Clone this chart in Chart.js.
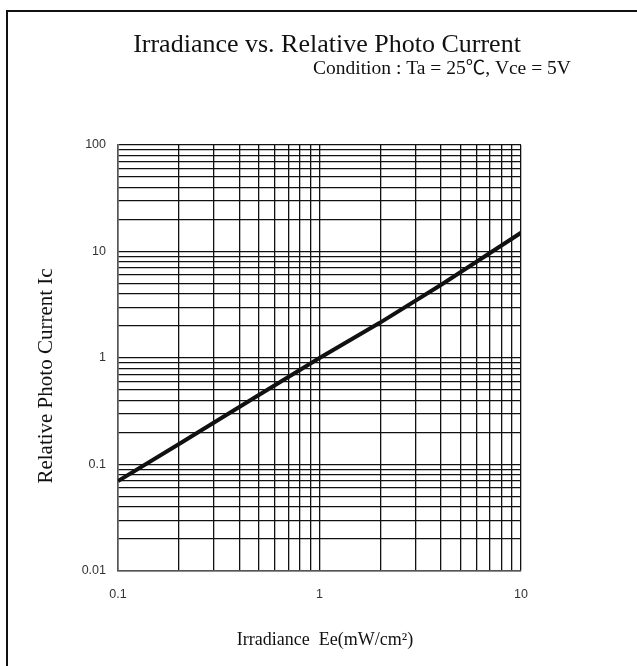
<!DOCTYPE html>
<html>
<head>
<meta charset="utf-8">
<script src="https://cdn.jsdelivr.net/npm/chart.js@4/dist/chart.umd.min.js"></script>
<style>
  html, body { margin: 0; padding: 0; background: #fff; }
  #wrap { position: relative; width: 637px; height: 666px; overflow: hidden; }
  #frame { position: absolute; left: 6px; top: 10px; right: -10px; bottom: -10px;
           border-top: 2px solid #111; border-left: 2px solid #111; }
  canvas { position: absolute; left: 0; top: 0; }
</style>
</head>
<body>
<div id="wrap">
  <div id="frame"></div>
  <canvas id="graph" width="637" height="666"></canvas>
</div>
<script>
// Werte
const irradiance = [0.1, 0.2, 0.5, 1, 2, 4, 10];
const photoCurrent = [0.07, 0.155, 0.45, 1.0, 2.15, 4.85, 15];

const xMajor = [0.1, 1, 10];
const yMajor = [0.01, 0.1, 1, 10, 100];
const minorSteps = [1, 2, 3, 4, 5, 6, 7, 8, 9];

const titleText = 'Irradiance vs. Relative Photo Current';
const subtitleText = 'Condition : Ta = 25\u2103, Vce = 5V';
const xTitle = 'Irradiance  Ee(mW/cm\u00B2)';
const yTitle = 'Relative Photo Current Ic';

// alle Gitterlinien 1..9 je Dekade
function gridValues(majors) {
  const out = [];
  majors.forEach((m, i) => {
    if (i === majors.length - 1) {
      out.push(m);
      return;
    }
    minorSteps.forEach((s) => out.push(+(m * s).toPrecision(6)));
  });
  return out;
}

function isMajor(value, majors) {
  return majors.some((m) => Math.abs(value - m) / m < 1e-6);
}

const textPlugin = {
  id: 'texts',
  afterDraw(chart) {
    const ctx = chart.ctx;
    ctx.save();
    ctx.fillStyle = '#111';
    ctx.textBaseline = 'middle';

    ctx.font = '26px "Liberation Serif"';
    ctx.textAlign = 'center';
    ctx.fillText(titleText, 327, 45);

    ctx.font = '19.5px "Liberation Serif", "Noto Sans CJK JP"';
    ctx.textAlign = 'left';
    ctx.fillText(subtitleText, 313, 69);

    ctx.font = '18px "Liberation Serif"';
    ctx.textAlign = 'center';
    ctx.fillText(xTitle, 325, 640);

    ctx.font = '21px "Liberation Serif"';
    ctx.translate(46, 376);
    ctx.rotate(-Math.PI / 2);
    ctx.fillText(yTitle, 0, 0);
    ctx.restore();
  },
};

const ctx = document.getElementById('graph').getContext('2d');

const chart = new Chart(ctx, {
  type: 'line',
  data: {
    datasets: [
      {
        data: irradiance.map((x, i) => ({ x: x, y: photoCurrent[i] })),
        borderColor: '#111',
        borderWidth: 4,
        pointRadius: 0,
        tension: 0,
        fill: false,
      },
    ],
  },
  options: {
    responsive: false,
    animation: false,
    layout: {
      padding: { left: 48, right: 116, top: 145, bottom: 40 },
    },
    plugins: {
      legend: { display: false },
      tooltip: { enabled: false },
    },
    scales: {
      x: {
        type: 'logarithmic',
        min: 0.1,
        max: 10,
        afterBuildTicks: (scale) => {
          scale.ticks = gridValues(xMajor).map((v) => ({ value: v }));
        },
        afterFit: (scale) => {
          scale.height = 55;
        },
        grid: { color: '#111', lineWidth: 1.3, drawTicks: false },
        border: { color: '#555', width: 1.5 },
        ticks: {
          autoSkip: false,
          maxRotation: 0,
          padding: 16,
          color: '#333',
          font: { family: '"Liberation Sans"', size: 12.5 },
          callback: (value) => (isMajor(value, xMajor) ? String(value) : ''),
        },
      },
      y: {
        type: 'logarithmic',
        min: 0.01,
        max: 100,
        afterBuildTicks: (scale) => {
          scale.ticks = gridValues(yMajor).map((v) => ({ value: v }));
        },
        afterFit: (scale) => {
          scale.width = 70;
        },
        grid: { color: '#111', lineWidth: 1.3, drawTicks: false },
        border: { color: '#555', width: 1.5 },
        ticks: {
          autoSkip: false,
          padding: 12,
          color: '#333',
          font: { family: '"Liberation Sans"', size: 12.5 },
          callback: (value) => (isMajor(value, yMajor) ? String(value) : ''),
        },
      },
    },
  },
  plugins: [textPlugin],
});
</script>
</body>
</html>
